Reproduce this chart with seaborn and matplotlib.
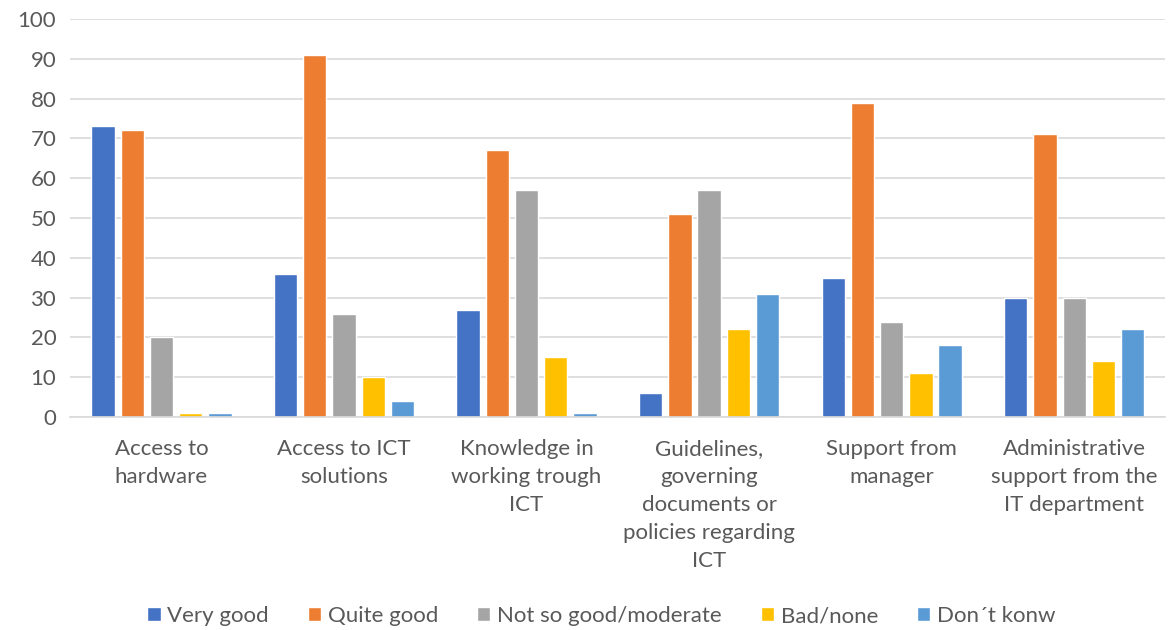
import matplotlib
matplotlib.use("Agg")
import matplotlib.pyplot as plt
import seaborn as sns
import pandas as pd

categories = ["Access to\nhardware", "Access to ICT\nsolutions", "Knowledge in\nworking trough\nICT",
              "Guidelines,\ngoverning\ndocuments or\npolicies regarding\nICT",
              "Support from\nmanager", "Administrative\nsupport from the\nIT department"]
series = ["Very good", "Quite good", "Not so good/moderate", "Bad/none", "Don\u00b4t konw"]
very_good = [73, 36, 27, 6, 35, 30]
quite_good = [72, 91, 67, 51, 79, 71]
not_so_good = [20, 26, 57, 57, 24, 30]
bad_none = [1, 10, 15, 22, 11, 14]
dont_know = [1, 4, 1, 31, 18, 22]
colors = ["#4472C4", "#ED7D31", "#A5A5A5", "#FFC000", "#5B9BD5"]

rows = []
for s, vals in zip(series, [very_good, quite_good, not_so_good, bad_none, dont_know]):
    for c, v in zip(categories, vals):
        rows.append({"cat": c, "series": s, "val": v})
df = pd.DataFrame(rows)

sns.set_theme(style="white")
plt.rcParams["font.family"] = ["Lato", "DejaVu Sans"]

fig = plt.figure(figsize=(11.69, 6.3), dpi=100)
ax = fig.add_axes([0.06, 0.338, 0.937, 0.632])
sns.barplot(data=df, x="cat", y="val", hue="series", palette=colors, ax=ax,
            width=0.8, gap=0.2, saturation=1, legend=True)

ax.set_ylim(0, 100)
ax.set_yticks(range(0, 101, 10))
ax.yaxis.grid(True, color="#D9D9D9", linewidth=1.2)
ax.set_axisbelow(True)
for s in ["top", "right", "left"]:
    ax.spines[s].set_visible(False)
ax.spines["bottom"].set_color("#D9D9D9")
ax.spines["bottom"].set_linewidth(1.2)
ax.set_xlabel("")
ax.set_ylabel("")
ax.tick_params(axis="y", length=0, labelsize=16, colors="#595959", pad=10)
ax.tick_params(axis="x", length=0, labelsize=16, colors="#595959", pad=16)
for lab in ax.get_xticklabels():
    lab.set_linespacing(1.5)
    lab.set_verticalalignment("top")
ax.set_xlim(-0.5, 5.5)

leg = ax.legend(loc="lower center", bbox_to_anchor=(0.485, -0.575), ncol=5, frameon=False,
                fontsize=16, handlelength=0.6, handleheight=0.6, handletextpad=0.3,
                columnspacing=1.75, labelcolor="#595959")

fig.savefig("out.png", dpi=100)
